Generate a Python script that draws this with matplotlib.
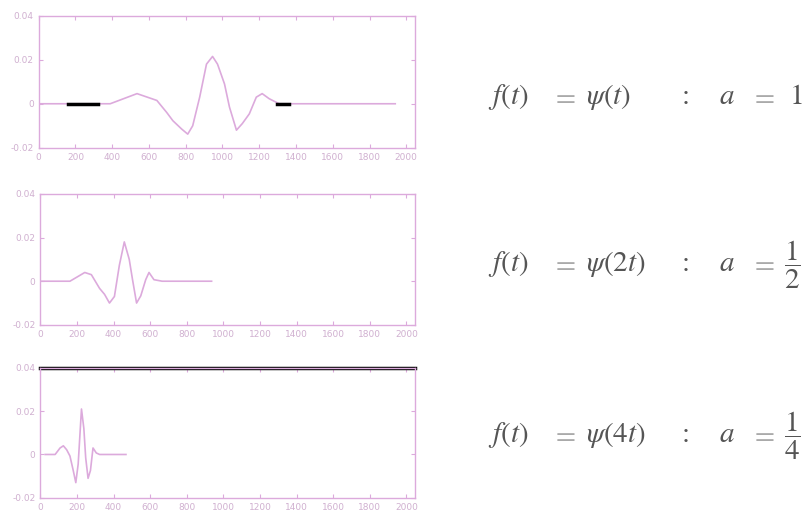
import matplotlib
matplotlib.use("Agg")
import matplotlib.pyplot as plt
import numpy as np

plt.rcParams['mathtext.fontset'] = 'stix'

# psi(t), a = 1
x1 = [0, 389, 535, 643, 697, 730, 778, 811, 838, 876, 913, 946, 973, 1011,
      1038, 1076, 1108, 1146, 1184, 1216, 1254, 1308, 1940]
y1 = [0, 0, 0.0046, 0.0015, -0.004, -0.0077, -0.0115, -0.0138, -0.010, 0.003,
      0.018, 0.0215, 0.018, 0.009, -0.0015, -0.012, -0.009, -0.0046, 0.003,
      0.0046, 0.0023, 0, 0]

# psi(2t), a = 1/2
x2 = [0, 162, 243, 279, 324, 351, 378, 405, 432, 459, 486, 504, 526, 549,
      576, 594, 621, 666, 936]
y2 = [0, 0, 0.004, 0.003, -0.0033, -0.006, -0.010, -0.007, 0.0073, 0.018,
      0.010, 0.0007, -0.010, -0.0067, 0.0007, 0.004, 0.0007, 0, 0]

# psi(4t), a = 1/4
x3 = [27, 81, 108, 126, 144, 162, 180, 194, 207, 225, 238, 248, 261, 274,
      288, 306, 324, 468]
y3 = [0, 0, 0.003, 0.004, 0.0022, -0.0007, -0.0074, -0.013, -0.0044, 0.021,
      0.012, -0.0015, -0.011, -0.0074, 0.003, 0.0007, 0, 0]

# dark marks left by the print
dark1 = [(160, 320), (1297, 1362)]

xticks = [0, 200, 400, 600, 800, 1000, 1200, 1400, 1600, 1800, 2000]
yticks = [-0.02, 0, 0.02, 0.04]
ylabels = ['-0.02', '0', '0.02', '0.04']

# right-hand formulas, one piece per column
funcs = [r'$\psi(t)$', r'$\psi(2t)$', r'$\psi(4t)$']
scales = [r'$1$', r'$\dfrac{1}{2}$', r'$\dfrac{1}{4}$']

pink = '#dcaadc'
ink = '#555555'
fig = plt.figure(figsize=(8.06, 5.24), dpi=100)

boxes = [[0.048, 0.718, 0.467, 0.252],
         [0.050, 0.380, 0.465, 0.250],
         [0.050, 0.050, 0.465, 0.248]]
series = [(x1, y1), (x2, y2), (x3, y3)]
baselines = [104, 271, 442]

for i, (box, (xs, ys)) in enumerate(zip(boxes, series)):
    ax = fig.add_axes(box)
    ax.plot(xs, ys, color=pink, lw=1.2)
    ax.set_xlim(0, 2048)
    ax.set_ylim(-0.02, 0.04)
    ax.set_xticks(xticks)
    ax.set_xticklabels([str(t) for t in xticks])
    ax.set_yticks(yticks)
    ax.set_yticklabels(ylabels)
    ax.tick_params(direction='in', top=True, right=True, colors=pink,
                   labelcolor='#d0b0d0', labelsize=6.5, length=3)
    for s in ax.spines.values():
        s.set_color(pink)
        s.set_linewidth(1.0)
    if i == 0:
        for a, b in dark1:
            ax.plot([a, b], [0, 0], color='black', lw=2.5)
    if i == 2:
        ax.axhline(0.04, color='black', lw=2.5, clip_on=False)

    ty = 1 - baselines[i] / 524
    fs = 21
    kw = dict(fontsize=fs, va='baseline')
    fig.text(488 / 806, ty, r'$f(t)$', color=ink, **kw)
    fig.text(551 / 806, ty, r'$=$', color='#aaaaaa', **kw)
    fig.text(586 / 806, ty, funcs[i], color=ink, **kw)
    fig.text(677 / 806, ty, r'$:$', color=ink, **kw)
    fig.text(719 / 806, ty, r'$a$', color=ink, **kw)
    fig.text(750 / 806, ty, r'$=$', color='#aaaaaa', **kw)
    fig.text((789 if i == 0 else 784) / 806, ty, scales[i], color=ink, **kw)

fig.savefig('out.png', dpi=100, facecolor='white')
